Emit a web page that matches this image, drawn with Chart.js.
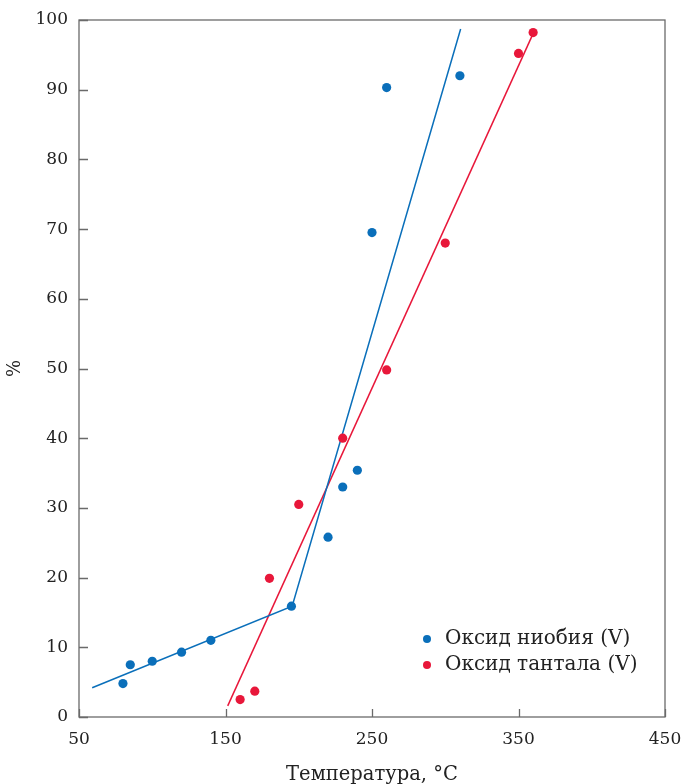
<!DOCTYPE html>
<html>
<head>
<meta charset="utf-8">
<script src="https://cdn.jsdelivr.net/npm/chart.js@4/dist/chart.umd.min.js"></script>
<style>
  html, body { margin: 0; padding: 0; background: #fff; }
  #wrap { width: 684px; height: 784px; position: relative; }
</style>
</head>
<body>
<div id="wrap"><canvas id="c" width="684" height="784"></canvas></div>
<script>
// ---- Data ----
const seriesLabels = ['Оксид ниобия (V)', 'Оксид тантала (V)'];
const niobiumT = [80, 85, 100, 120, 140, 195, 220, 230, 240, 250, 260, 310];
const niobiumP = [4.8, 7.5, 8.0, 9.3, 11.0, 15.9, 25.8, 33.0, 35.4, 69.5, 90.3, 92.0];
const tantalumT = [160, 170, 180, 200, 230, 260, 300, 350, 360];
const tantalumP = [2.5, 3.7, 19.9, 30.5, 40.0, 49.8, 68.0, 95.2, 98.2];
// fitted trend lines
const niobiumFitT = [59, 195.5, 310.5];
const niobiumFitP = [4.2, 15.9, 98.7];
const tantalumFitT = [151.5, 360.5];
const tantalumFitP = [1.6, 98.3];
const xTicks = [50, 150, 250, 350, 450];
const yTicks = [0, 10, 20, 30, 40, 50, 60, 70, 80, 90, 100];
const xTitle = 'Температура, °C';
const yTitle = '%';

const BLUE = '#0a6fba';
const RED = '#e8173a';
const AXIS = '#6a6a6a';
const TEXT = '#222222';
const FONT = '"DejaVu Serif", serif';

const toXY = (xs, ys) => xs.map((x, i) => ({ x: x, y: ys[i] }));

const frameTicks = {
  id: 'frameTicks',
  afterDatasetsDraw(chart) {
    const { ctx, chartArea: a, scales } = chart;
    ctx.save();
    ctx.strokeStyle = AXIS;
    ctx.lineWidth = 1.3;
    ctx.strokeRect(a.left, a.top, a.right - a.left, a.bottom - a.top);
    ctx.beginPath();
    xTicks.forEach(v => {
      const px = Math.round(scales.x.getPixelForValue(v)) + 0.5;
      ctx.moveTo(px, a.bottom); ctx.lineTo(px, a.bottom - 8);
    });
    yTicks.forEach(v => {
      const py = Math.round(scales.y.getPixelForValue(v)) + 0.5;
      ctx.moveTo(a.left, py); ctx.lineTo(a.left + 9, py);
    });
    ctx.stroke();
    // legend
    const items = [
      { label: seriesLabels[0], color: BLUE },
      { label: seriesLabels[1], color: RED }
    ];
    ctx.font = '20px ' + FONT;
    ctx.textBaseline = 'middle';
    ctx.textAlign = 'left';
    items.forEach((it, i) => {
      const y = 639 + i * 26;
      ctx.fillStyle = it.color;
      ctx.beginPath();
      ctx.arc(427, y, 4, 0, Math.PI * 2);
      ctx.fill();
      ctx.fillStyle = TEXT;
      ctx.fillText(it.label, 445, y);
    });
    ctx.restore();
  }
};

new Chart(document.getElementById('c'), {
  type: 'scatter',
  data: {
    datasets: [
      { label: seriesLabels[0], data: toXY(niobiumT, niobiumP), backgroundColor: BLUE, borderColor: BLUE, pointRadius: 4.6, pointHoverRadius: 4.6, borderWidth: 0 },
      { label: seriesLabels[1], data: toXY(tantalumT, tantalumP), backgroundColor: RED, borderColor: RED, pointRadius: 4.6, pointHoverRadius: 4.6, borderWidth: 0 },
      { label: 'fitN', data: toXY(niobiumFitT, niobiumFitP), showLine: true, borderColor: BLUE, borderWidth: 1.5, pointRadius: 0, fill: false },
      { label: 'fitT', data: toXY(tantalumFitT, tantalumFitP), showLine: true, borderColor: RED, borderWidth: 1.5, pointRadius: 0, fill: false }
    ]
  },
  options: {
    responsive: false,
    animation: false,
    layout: { padding: { top: 20, right: 19, left: 0, bottom: 0 } },
    plugins: { legend: { display: false }, tooltip: { enabled: false } },
    scales: {
      x: {
        type: 'linear', min: 50, max: 450,
        afterBuildTicks: s => { s.ticks = xTicks.map(v => ({ value: v })); },
        afterFit: s => { s.height = 67; s.paddingRight = 0; s.paddingLeft = 0; },
        grid: { display: false, drawTicks: false },
        border: { display: false },
        ticks: { color: TEXT, font: { family: FONT, size: 17 }, padding: 12, maxRotation: 0, autoSkip: false },
        title: { display: true, text: xTitle, color: TEXT, font: { family: FONT, size: 19.5 }, padding: { top: 0, bottom: -3 } }
      },
      y: {
        type: 'linear', min: 0, max: 100,
        afterBuildTicks: s => { s.ticks = yTicks.map(v => ({ value: v })); },
        afterFit: s => { s.width = 79; s.paddingTop = 0; s.paddingBottom = 0; },
        grid: { display: false, drawTicks: false },
        border: { display: false },
        ticks: { color: TEXT, font: { family: FONT, size: 17 }, padding: 11, autoSkip: false },
        title: { display: true, text: yTitle, color: TEXT, font: { family: FONT, size: 18 }, padding: { top: 5, bottom: 0 } }
      }
    }
  },
  plugins: [frameTicks]
});
</script>
</body>
</html>
